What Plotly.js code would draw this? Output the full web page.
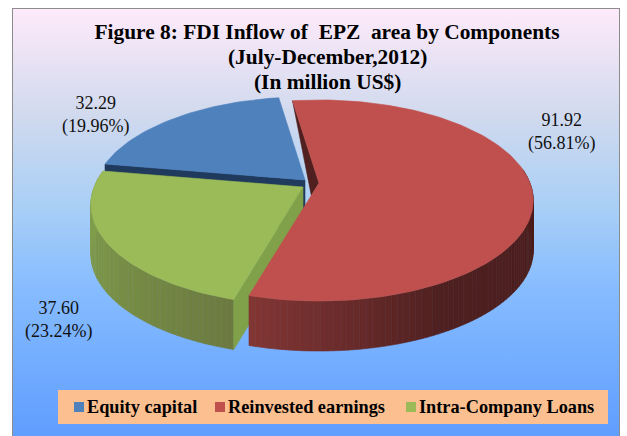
<!DOCTYPE html>
<html>
<head>
<meta charset="utf-8">
<script src="https://cdn.plot.ly/plotly-3.0.1.min.js"></script>
<style>
html,body{margin:0;padding:0;background:#fff;width:627px;height:436px;overflow:hidden}
#frame{position:absolute;left:12px;top:8px;width:608px;height:432px;box-sizing:border-box;border:1.5px solid #8c8c8c;
background:linear-gradient(to bottom,#feeafa 0%,#d2daee 24%,#a9cff6 46%,#86bcff 65%,#5f9dff 100%)}
#chart{position:absolute;left:0;top:0;width:627px;height:436px}
</style>
</head>
<body>
<div id="frame"></div>
<div id="chart"></div>
<script>
const categories = ['Equity capital', 'Reinvested earnings', 'Intra-Company Loans'];
const values = [32.29, 91.92, 37.60];
const percents = [19.96, 56.81, 23.24];
const topColors = ['#4f81bd', '#c0504d', '#9bbb59'];
const titleLines = ['Figure 8: FDI Inflow of \u00a0EPZ \u00a0area by Components', '(July-December,2012)', '(In million US$)'];
const labelLines = values.map((v, i) => v.toFixed(2) + '<br>(' + percents[i].toFixed(2) + '%)');

// pie projection (tilted disc with slight perspective)
const startAngle = 279.7, radiusX = 212, radiusY = 97.5, persp = 0.174, depth = 50;
const apexes = [[305, 180], [319, 183], [303, 187]];
const sliceScale = [0.985, 0.995, 0.985];
const labelPos = [[95, 115], [561, 132], [58, 320]];
const legendSwatchX = [74, 215, 406], legendTextX = [87, 228, 419];

function proj(i, deg, dz) {
  const t = deg * Math.PI / 180, X = Math.sin(t), Y = Math.cos(t), s = 1 + persp * Y, r = sliceScale[i];
  return [apexes[i][0] + r * radiusX * X / s, apexes[i][1] - radiusY * Y / s + (dz || 0)];
}
function mix(a, b, f) {
  const p = c => [1, 3, 5].map(i => parseInt(c.substr(i, 2), 16));
  const A = p(a), B = p(b);
  return 'rgb(' + A.map((v, i) => Math.round(v + (B[i] - v) * f)).join(',') + ')';
}
function poly(pts, color) {
  return {type: 'scatter', mode: 'lines', x: pts.map(p => p[0]).concat(pts[0][0]), y: pts.map(p => p[1]).concat(pts[0][1]),
    fill: 'toself', fillcolor: color, line: {color: color, width: 0.6}, hoverinfo: 'skip', showlegend: false};
}
const total = values.reduce((a, b) => a + b, 0);
let cur = startAngle;
const spans = values.map(v => { const s = [cur, cur + v / total * 360]; cur = s[1]; return s; });

function topFace(i) {
  const a0 = spans[i][0], a1 = spans[i][1], n = Math.ceil((a1 - a0) / 1.5), pts = [apexes[i]];
  for (let k = 0; k <= n; k++) pts.push(proj(i, a0 + (a1 - a0) * k / n));
  return poly(pts, topColors[i]);
}
function wallSegments(i, a0, a1, shade) {
  const n = Math.ceil((a1 - a0) / 1.5), out = [];
  for (let k = 0; k < n; k++) {
    const u = a0 + (a1 - a0) * k / n, v = a0 + (a1 - a0) * (k + 1) / n;
    out.push(poly([proj(i, u), proj(i, v), proj(i, v, depth), proj(i, u, depth)], shade((k + .5) / n)));
  }
  return out;
}
function radialWall(i, deg, color) {
  const e = proj(i, deg), a = apexes[i];
  return poly([a, e, [e[0], e[1] + depth], [a[0], a[1] + depth]], color);
}

const traces = [];
// red inner cut wall, visible sliver only
const rS = proj(1, spans[1][0]), rE = proj(1, spans[1][1]), clip = 0.11, rA = apexes[1];
traces.push(poly([rS, rA, [rA[0] + (rE[0] - rA[0]) * clip, rA[1] + (rE[1] - rA[1]) * clip]], '#4f201f'));
// blue
traces.push(radialWall(0, spans[0][0], '#1f3a5c'));
traces.push(topFace(0));
// green
traces.push(...wallSegments(2, spans[2][0], spans[2][1], f => f < .5 ? mix('#6c7a40', '#7a9247', f * 2) : mix('#7a9247', '#84a34e', (f - .5) * 2)));
traces.push(radialWall(2, spans[2][0], '#80a04a'));
traces.push(topFace(2));
// red
traces.push(...wallSegments(1, spans[1][0] + 90, spans[1][1], f => f < .6 ? mix('#4a1c1b', '#4f2020', f / .6) : mix('#4f2020', '#823634', (f - .6) / .4)));
traces.push(topFace(1));

const serif = '"Liberation Serif","Times New Roman",serif';
const boldFont = s => ({family: serif, size: s, color: '#000', weight: 'bold'});
const annotations = values.map((v, i) => ({x: labelPos[i][0], y: labelPos[i][1], xref: 'x', yref: 'y', text: labelLines[i],
  showarrow: false, font: {family: serif, size: 18, color: '#111'}, align: 'center'}));
[57, 82].forEach((y, i) => annotations.push({x: 327, y: y, xref: 'x', yref: 'y', text: titleLines[i + 1], showarrow: false, font: boldFont(21.4)}));
categories.forEach((c, i) => annotations.push({x: legendTextX[i], y: 407, xref: 'x', yref: 'y', xanchor: 'left', xshift: -2, text: c, showarrow: false, font: boldFont(18.3)}));
const shapes = [{type: 'rect', xref: 'x', yref: 'y', x0: 58, x1: 608, y0: 390, y1: 424, fillcolor: '#fbbf90', line: {width: 0}, layer: 'below'}]
  .concat(categories.map((c, i) => ({type: 'rect', xref: 'x', yref: 'y', x0: legendSwatchX[i], x1: legendSwatchX[i] + 10, y0: 402, y1: 412, fillcolor: topColors[i], line: {width: 0}})));

const layout = {
  width: 627, height: 436, margin: {l: 0, r: 0, t: 0, b: 0},
  paper_bgcolor: 'rgba(0,0,0,0)', plot_bgcolor: 'rgba(0,0,0,0)',
  xaxis: {range: [0, 627], visible: false, fixedrange: true},
  yaxis: {range: [436, 0], visible: false, fixedrange: true},
  title: {text: titleLines[0], x: 0.5215, xanchor: 'center', y: 0.9266, yanchor: 'middle', yref: 'container', font: boldFont(21.4)},
  showlegend: false, annotations: annotations, shapes: shapes
};
Plotly.newPlot('chart', traces, layout, {displayModeBar: false, staticPlot: true});
</script>
</body>
</html>
